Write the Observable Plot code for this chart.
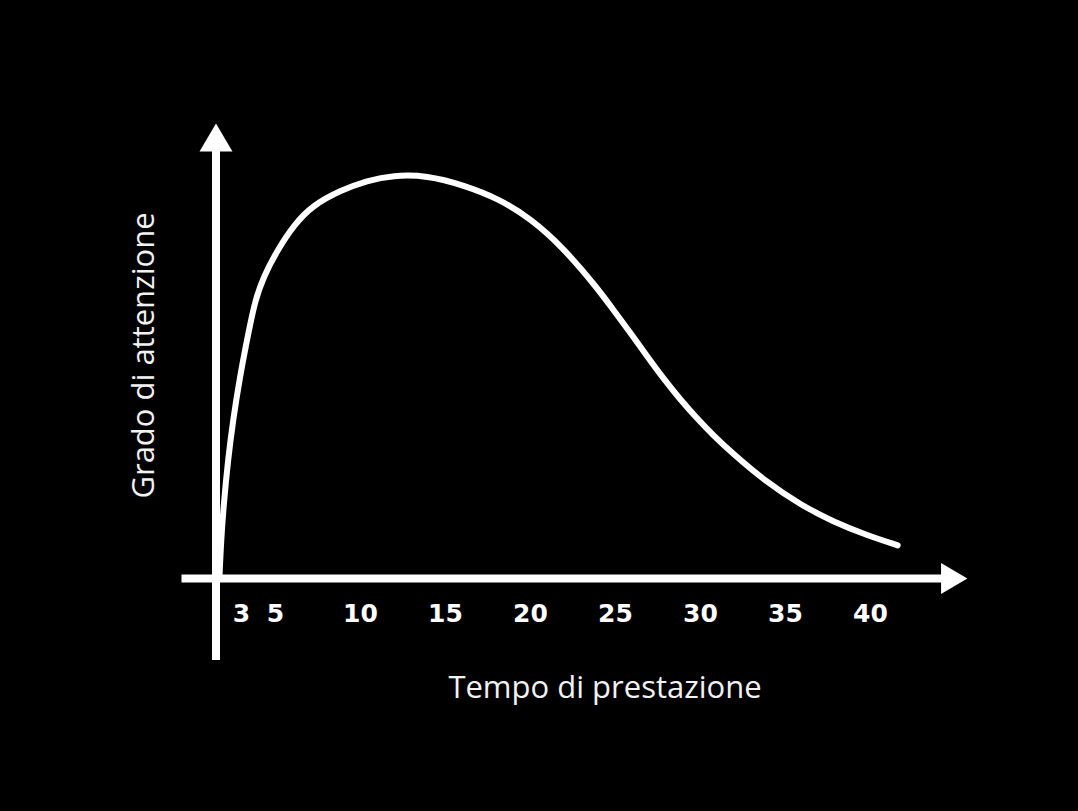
<!DOCTYPE html>
<html>
<head>
<meta charset="utf-8">
<script src="https://cdn.jsdelivr.net/npm/d3@7"></script>
<script src="https://cdn.jsdelivr.net/npm/@observablehq/plot@0.6"></script>
<style>
  html, body { margin: 0; padding: 0; background: #000; }
  #chart { width: 1078px; height: 811px; }
</style>
</head>
<body>
<div id="chart"></div>
<script>
// ---- Data ----
const tempo      = [1.7, 1.8, 1.95, 2.2, 2.5, 2.9, 3.4, 3.8, 4.3, 5.1, 6.1, 7.2, 8.8, 10.4, 11.9, 13.9, 16.1, 18.1, 20.0, 21.9, 23.9, 24.9, 25.9, 26.9, 27.8, 28.8, 29.8, 30.8, 31.8, 33.9, 35.9, 37.8, 39.8, 41.6];
const attenzione = [0,   9.5, 18.3, 29.5, 39.5, 50.3, 61.3, 69.5, 75.5, 82.0, 88.5, 93.3, 97.0, 99.5, 100.8, 100.8, 98.3, 95.0, 90.0, 82.8, 72.8, 67.0, 61.3, 55.3, 50.1, 44.8, 40.0, 35.6, 31.6, 24.0, 18.4, 14.2, 10.8, 8.3];
const xTicks = [3, 5, 10, 15, 20, 25, 30, 35, 40];
const xTitle = "Tempo di prestazione";
const yTitle = "Grado di attenzione";

// axis geometry in data units
const originX = 1.5;              // where the vertical axis stands
const xAxisFrom = [-0.5];         // left end of horizontal axis
const xAxisTip = [45.7];          // arrow tip of horizontal axis
const yAxisFrom = [-20.5];        // bottom end of vertical axis
const yAxisTip = [113.75];        // arrow tip of vertical axis

const curve = tempo.map((t, i) => ({t, a: attenzione[i]}));

// filled arrow-head symbols (anchor = tip)
const headUp = {
  draw(ctx, size) {
    const s = Math.sqrt(size);
    ctx.moveTo(0, 0);
    ctx.lineTo(s / 2, s * 0.85);
    ctx.lineTo(-s / 2, s * 0.85);
    ctx.closePath();
  }
};
const headRight = {
  draw(ctx, size) {
    const s = Math.sqrt(size);
    ctx.moveTo(0, 0);
    ctx.lineTo(-s * 0.85, -s / 2);
    ctx.lineTo(-s * 0.85, s / 2);
    ctx.closePath();
  }
};

const chart = Plot.plot({
  width: 1078,
  height: 811,
  marginLeft: 173,
  marginRight: 38,
  marginTop: 106,
  marginBottom: 213,
  style: { background: "#000", color: "#fff", overflow: "visible" },
  x: { domain: [-1, 50], axis: null },
  y: { domain: [-5, 118], axis: null },
  marks: [
    // axes shafts
    Plot.ruleY([0], { x1: xAxisFrom[0], x2: xAxisTip[0] - 1.2, stroke: "#fff", strokeWidth: 8 }),
    Plot.ruleX([originX], { y1: yAxisFrom[0], y2: yAxisTip[0] - 6.5, stroke: "#fff", strokeWidth: 8 }),
    // arrow heads
    Plot.dot(xAxisTip, { x: d => d, y: () => 0, symbol: headRight, r: 17.5, fill: "#fff", stroke: "none" }),
    Plot.dot(yAxisTip, { x: () => originX, y: d => d, symbol: headUp, r: 18.6, fill: "#fff", stroke: "none" }),
    // tick labels
    Plot.axisX(xTicks, {
      anchor: "bottom",
      tickSize: 0,
      tickPadding: 6,
      label: null,
      fontSize: 25,
      fontWeight: "bold",
      fontFamily: "DejaVu Sans",
      fill: "#fff"
    }),
    // the curve
    Plot.line(curve, { x: "t", y: "a", curve: "basis", stroke: "#fff", strokeWidth: 6, strokeLinecap: "round" }),
    // axis titles
    Plot.text([xTitle], { frameAnchor: "bottom", text: d => d, dy: 99, dx: -2, fontSize: 31, fontFamily: "Open Sans", fill: "#f2f2f2" }),
    Plot.text([yTitle], { frameAnchor: "left", text: d => d, rotate: -90, textAnchor: "middle", dx: -29, dy: 3, fontSize: 31, fontFamily: "Open Sans", fill: "#f2f2f2" })
  ]
});
document.getElementById("chart").appendChild(chart);
</script>
</body>
</html>
